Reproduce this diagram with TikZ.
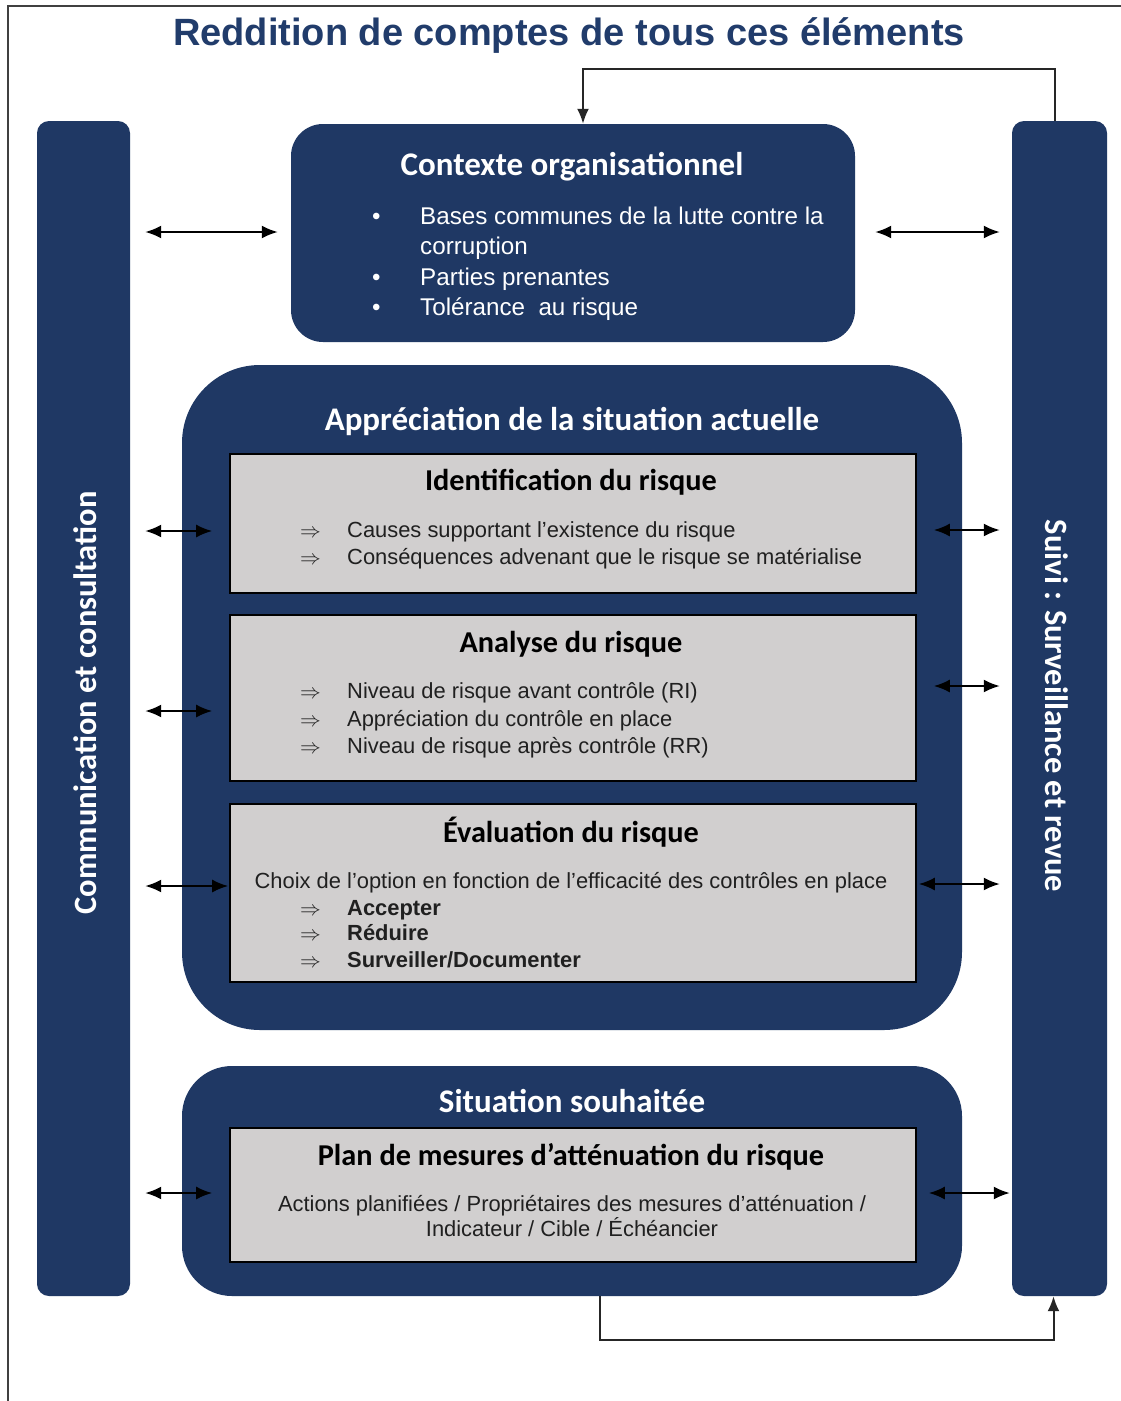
\documentclass[tikz,border=0pt]{standalone}
\usepackage{fontspec}
\setmainfont{Liberation Sans}
\newfontfamily\headfont{Carlito}
\usetikzlibrary{arrows.meta}
\definecolor{navy}{HTML}{1F3864}
\definecolor{titlec}{HTML}{213C6B}
\definecolor{greyfill}{HTML}{D1CFCF}
\definecolor{txt}{HTML}{202020}
\tikzset{
  navybox/.style={fill=navy, draw=none, inner sep=0pt},
  greybox/.style={fill=greyfill, draw=black, line width=1.6pt, inner sep=0pt, minimum width=686pt},
  whead/.style={text=white, font=\headfont\bfseries\fontsize{33}{38}\selectfont, anchor=base, inner sep=0pt},
  ghead/.style={text=black, font=\headfont\bfseries\fontsize{30.3}{35}\selectfont, anchor=base, inner sep=0pt},
  wtxt/.style={text=white, font=\fontsize{24.2}{29}\selectfont, anchor=base west, inner sep=0pt},
  gtxt/.style={text=txt, font=\fontsize{21.9}{26}\selectfont, anchor=base west, inner sep=0pt},
  gctr/.style={text=txt, font=\fontsize{21.9}{26}\selectfont, anchor=base, inner sep=0pt},
  dbl/.style={{Latex[length=16pt,width=13pt]}-{Latex[length=16pt,width=13pt]}, line width=2pt, black},
  onearr/.style={-{Latex[length=15pt,width=12pt]}, line width=2pt, black!85},
  frame/.style={line width=2pt, black!75}
}
\begin{document}
\begin{tikzpicture}[x=1pt,y=-1pt]
\useasboundingbox (0,0) rectangle (1121,1401);
\fill[white] (0,0) rectangle (1121,1401);
% frame (open at right and bottom)
\draw[frame] (8,1401) -- (8,6) -- (1121,6);
% title
\node[anchor=base, inner sep=0pt, text=titlec, font=\bfseries\fontsize{38}{44}\selectfont] (title) at (569,45) {Reddition de comptes de tous ces éléments};
% side bars
\node[navybox, rounded corners=12pt, minimum width=93pt, minimum height=1175pt] (lbar) at (83.5,708.5) {};
\node[navybox, rounded corners=12pt, minimum width=95pt, minimum height=1175pt] (rbar) at (1059.5,708.5) {};
\node[rotate=90, text=white, font=\headfont\bfseries\fontsize{32.5}{37}\selectfont, inner sep=0pt] (ltxt) at (85,703) {Communication et consultation};
\node[rotate=-90, text=white, font=\headfont\bfseries\fontsize{32.5}{37}\selectfont, inner sep=0pt] (rtxt) at (1057,706) {Suivi : Surveillance et revue};
% contexte
\node[navybox, rounded corners=32pt, minimum width=564pt, minimum height=218pt] (ctx) at (573,233) {};
\node[whead] (ctxh) at (572,175) {Contexte organisationnel};
\node[wtxt] (b1) at (372,224) {•};
\node[wtxt] (c1) at (420,224) {Bases communes de la lutte contre la};
\node[wtxt] (c2) at (420,254) {corruption};
\node[wtxt] (b2) at (372,285) {•};
\node[wtxt] (c3) at (420,285) {Parties prenantes};
\node[wtxt] (b3) at (372,315) {•};
\node[wtxt] (c4) at (420,315) {Tolérance\ \ au risque};
% appreciation
\node[navybox, rounded corners=78pt, minimum width=780pt, minimum height=665pt] (app) at (572,697.5) {};
\node[whead] (apph) at (572,430) {Appréciation de la situation actuelle};
% identification
\node[greybox, minimum height=139pt] (idf) at (573,523.5) {};
\node[ghead] (idfh) at (571,490) {Identification du risque};
\node[gtxt] (ia1) at (300,537) {$\Rightarrow$};
\node[gtxt] (i1) at (347,537) {Causes supportant l'existence du risque};
\node[gtxt] (ia2) at (300,564) {$\Rightarrow$};
\node[gtxt] (i2) at (347,564) {Conséquences advenant que le risque se matérialise};
% analyse
\node[greybox, minimum height=166pt] (ana) at (573,698) {};
\node[ghead] (anah) at (571,652) {Analyse du risque};
\node[gtxt] (aa1) at (300,698) {$\Rightarrow$};
\node[gtxt] (a1) at (347,698) {Niveau de risque avant contrôle (RI)};
\node[gtxt] (aa2) at (300,726) {$\Rightarrow$};
\node[gtxt] (a2) at (347,726) {Appréciation du contrôle en place};
\node[gtxt] (aa3) at (300,753) {$\Rightarrow$};
\node[gtxt] (a3) at (347,753) {Niveau de risque après contrôle (RR)};
% evaluation
\node[greybox, minimum height=178pt] (eva) at (573,893) {};
\node[ghead] (evah) at (571,842) {Évaluation du risque};
\node[gctr] (e0) at (571,888) {Choix de l'option en fonction de l'efficacité des contrôles en place};
\node[gtxt] (ea1) at (300,915) {$\Rightarrow$};
\node[gtxt, font=\bfseries\fontsize{21.9}{26}\selectfont] (e1) at (347,915) {Accepter};
\node[gtxt] (ea2) at (300,940) {$\Rightarrow$};
\node[gtxt, font=\bfseries\fontsize{21.9}{26}\selectfont] (e2) at (347,940) {Réduire};
\node[gtxt] (ea3) at (300,967) {$\Rightarrow$};
\node[gtxt, font=\bfseries\fontsize{21.9}{26}\selectfont] (e3) at (347,967) {Surveiller/Documenter};
% situation souhaitee
\node[navybox, rounded corners=50pt, minimum width=780pt, minimum height=230pt] (sit) at (572,1181) {};
\node[whead] (sith) at (572,1112) {Situation souhaitée};
\node[greybox, minimum height=134pt] (plan) at (573,1195) {};
\node[ghead] (planh) at (571,1165) {Plan de mesures d’atténuation du risque};
\node[gctr] (p1) at (572,1211) {Actions planifiées / Propriétaires des mesures d'atténuation /};
\node[gctr] (p2) at (572,1236) {Indicateur / Cible / Échéancier};
% double arrows left
\draw[dbl, shorten <=15pt, shorten >=13pt] (lbar.east |- 0,232) -- (ctx.west |- 0,232);
\draw[dbl, shorten <=15pt, shorten >=17pt] (lbar.east |- 0,531) -- (idf.west |- 0,531);
\draw[dbl, shorten <=15pt, shorten >=17pt] (lbar.east |- 0,711) -- (ana.west |- 0,711);
\draw[dbl, shorten <=15pt, shorten >=1pt] (lbar.east |- 0,886) -- (eva.west |- 0,886);
\draw[dbl, shorten <=15pt, shorten >=17pt] (lbar.east |- 0,1193) -- (plan.west |- 0,1193);
% double arrows right
\draw[dbl, shorten <=20pt, shorten >=12pt] (ctx.east |- 0,232) -- (rbar.west |- 0,232);
\draw[dbl, shorten <=17pt, shorten >=12pt] (idf.east |- 0,530) -- (rbar.west |- 0,530);
\draw[dbl, shorten <=17pt, shorten >=12pt] (ana.east |- 0,686) -- (rbar.west |- 0,686);
\draw[dbl, shorten <=2pt, shorten >=12pt] (eva.east |- 0,884) -- (rbar.west |- 0,884);
\draw[dbl, shorten <=12pt, shorten >=2pt] (plan.east |- 0,1193) -- (rbar.west |- 0,1193);
% feedback loops
\draw[onearr] ([xshift=-5pt]rbar.north) -- ++(0,-52) -| ([xshift=10pt]ctx.north);
\draw[onearr] ([xshift=28pt]sit.south) -- ++(0,44) -| ([xshift=-6pt]rbar.south);
\end{tikzpicture}
\end{document}
